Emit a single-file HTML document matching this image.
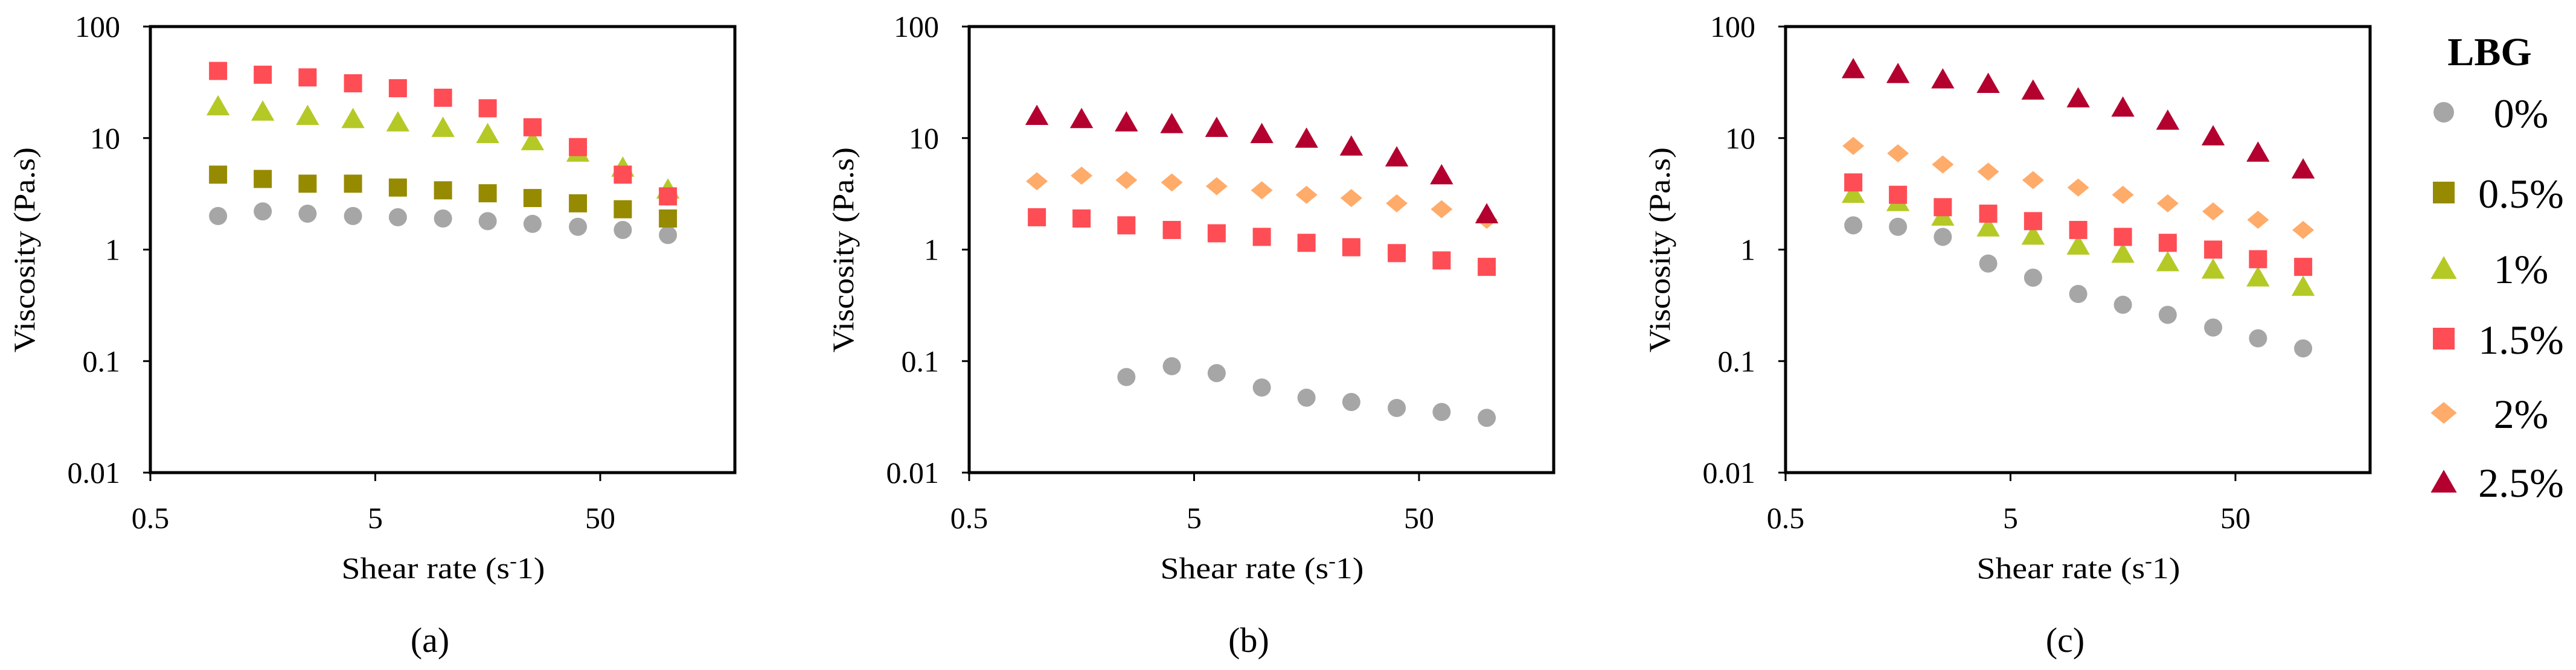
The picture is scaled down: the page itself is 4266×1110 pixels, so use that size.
<!DOCTYPE html>
<html><head><meta charset="utf-8"><style>
html,body{margin:0;padding:0;background:#fff;}
svg{display:block;font-family:"Liberation Serif",serif;}
</style></head><body>
<svg id="chart" width="4266" height="1110" viewBox="0 0 4266 1110" xmlns="http://www.w3.org/2000/svg">
<g>
<text x="4123" y="108" font-size="66" font-weight="bold" text-anchor="middle">LBG</text>
<g id="legend-items"></g>
</g>
</svg>
<script>
const xValues=[1,1.58,2.5,3.98,6.3,10,15.8,25,39.8,63,100];
const seriesNames=["0%","0.5%","1%","1.5%","2%","2.5%"];
const seriesColors=["#a6a6a6","#968a00","#b5c926","#ff4d55","#ffab6a","#b3002f"];
const seriesShapes=["circle","square","triangle","square","diamond","triangle"];
const yTicks=[100,10,1,0.1,0.01];
const yTickLabels=["100","10","1","0.1","0.01"];
const xTicks=[0.5,5,50];
const xTickLabels=["0.5","5","50"];
const panelLabels=["(a)","(b)","(c)"];
// panel a
const a0=[2.0,2.2,2.1,2.0,1.95,1.9,1.8,1.7,1.6,1.5,1.35];
const a05=[4.7,4.3,3.9,3.9,3.6,3.4,3.2,2.9,2.6,2.3,1.9];
const a1=[19.5,17.5,16,15,14,12.5,11,9.5,7.5,5.5,3.5];
const a15=[40,37,35,31,28,23,18.5,12.5,8.3,4.7,3.0];
// panel b
const b0=[null,null,0.072,0.09,0.078,0.058,0.047,0.043,0.038,0.035,0.031];
const b15=[1.95,1.9,1.65,1.5,1.4,1.3,1.15,1.05,0.93,0.8,0.7];
const b2=[4.1,4.6,4.2,4.0,3.7,3.4,3.1,2.9,2.6,2.3,1.85];
const b25=[16,15,14,13.5,12.5,11,10,8.5,6.8,4.7,2.1];
// panel c
const c0=[1.65,1.6,1.3,0.75,0.56,0.4,0.32,0.26,0.2,0.16,0.13];
const c1=[3.2,2.7,2.0,1.6,1.35,1.1,0.93,0.78,0.67,0.57,0.47];
const c15=[4,3.1,2.4,2.1,1.8,1.5,1.3,1.15,1.0,0.82,0.7];
const c2=[8.5,7.3,5.8,5.0,4.2,3.6,3.1,2.6,2.2,1.85,1.5];
const c25=[42,38,34,31,27,23,19,14.5,10.5,7.5,5.3];

const panels=[
 {left:249,series:[[0,a0],[1,a05],[2,a1],[3,a15]]},
 {left:1605,series:[[0,b0],[3,b15],[4,b2],[5,b25]]},
 {left:2957,series:[[0,c0],[2,c1],[3,c15],[4,c2],[5,c25]]}
];
const NS="http://www.w3.org/2000/svg";
const svg=document.getElementById('chart');
const TOP=44,BOT=783,W=968,DEC=372.5;
function el(tag,attrs,parent){const e=document.createElementNS(NS,tag);for(const k in attrs)e.setAttribute(k,attrs[k]);(parent||svg).appendChild(e);return e;}
function yScale(v){return BOT-(Math.log10(v)+2)*(BOT-TOP)/4;}
function marker(shape,cx,cy,color,s,parent){
  if(shape==="circle")return el('ellipse',{cx:cx,cy:cy,rx:s/2,ry:s/2,fill:color},parent);
  if(shape==="square")return el('rect',{x:cx-s/2,y:cy-s/2,width:s,height:s,fill:color},parent);
  if(shape==="triangle")return el('polygon',{points:`${cx},${cy-s*0.55} ${cx+s*0.6},${cy+s*0.5} ${cx-s*0.6},${cy+s*0.5}`,fill:color},parent);
  return el('polygon',{points:`${cx},${cy-s*0.5} ${cx+s*0.6},${cy} ${cx},${cy+s*0.5} ${cx-s*0.6},${cy}`,fill:color},parent);
}
panels.forEach((p,pi)=>{
  const L=p.left;
  const xScale=v=>L+Math.log10(v/0.5)*DEC;
  const g=el('g',{});
  
  
  const box=el('rect',{x:L,y:TOP,width:W,height:BOT-TOP,fill:'none',stroke:'#000','stroke-width':5},g);
  
  
  yTicks.forEach((t,i)=>{
    const y=yScale(t);
    el('line',{x1:L-12,x2:L,y1:y,y2:y,stroke:'#000','stroke-width':3},g);
    const tx=el('text',{x:L-50,y:y+17,'font-size':50,'text-anchor':'end'},g);
    tx.textContent=yTickLabels[i];
    
    
  });
  xTicks.forEach((t,i)=>{
    const x=xScale(t);
    el('line',{x1:x,x2:x,y1:BOT,y2:BOT+14,stroke:'#000','stroke-width':3},g);
    const tx=el('text',{x:x,y:875,'font-size':50,'text-anchor':'middle'},g);
    tx.textContent=xTickLabels[i];
    
    
  });
  const xt=el('text',{x:L+485,y:958,'font-size':50,'text-anchor':'middle',textLength:337,lengthAdjust:'spacingAndGlyphs'},g);
  xt.innerHTML='Shear rate (s<tspan font-size="32" dy="-18">-</tspan><tspan dy="18">1)</tspan>';
  
  
  const yt=el('text',{x:0,y:0,'font-size':50,'text-anchor':'middle',textLength:340,lengthAdjust:'spacingAndGlyphs',transform:`translate(${L-192},414) rotate(-90)`},g);
  yt.textContent='Viscosity (Pa.s)';
  
  
  const pl=el('text',{x:L+463,y:1080,'font-size':58,'text-anchor':'middle'},g);
  pl.textContent=panelLabels[pi];
  
  
  p.series.forEach(([si,vals])=>{
    vals.forEach((v,j)=>{
      if(v==null)return;
      const m=marker(seriesShapes[si],xScale(xValues[j]),yScale(v),seriesColors[si],seriesShapes[si]==="triangle"?32:30,g);
      
      
    });
  });
});
const lg=document.getElementById('legend-items');
const legendY=[186,319,444,561,684,798];
seriesNames.forEach((n,i)=>{
  const g=el('g',{},lg);
  
  
  marker(seriesShapes[i],4047,legendY[i],seriesColors[i],i===0?34:36,g);
  const t=el('text',{x:4175,y:legendY[i]+25,'font-size':68,'text-anchor':'middle'},g);
  t.textContent=n;
});
</script>
</body></html>
